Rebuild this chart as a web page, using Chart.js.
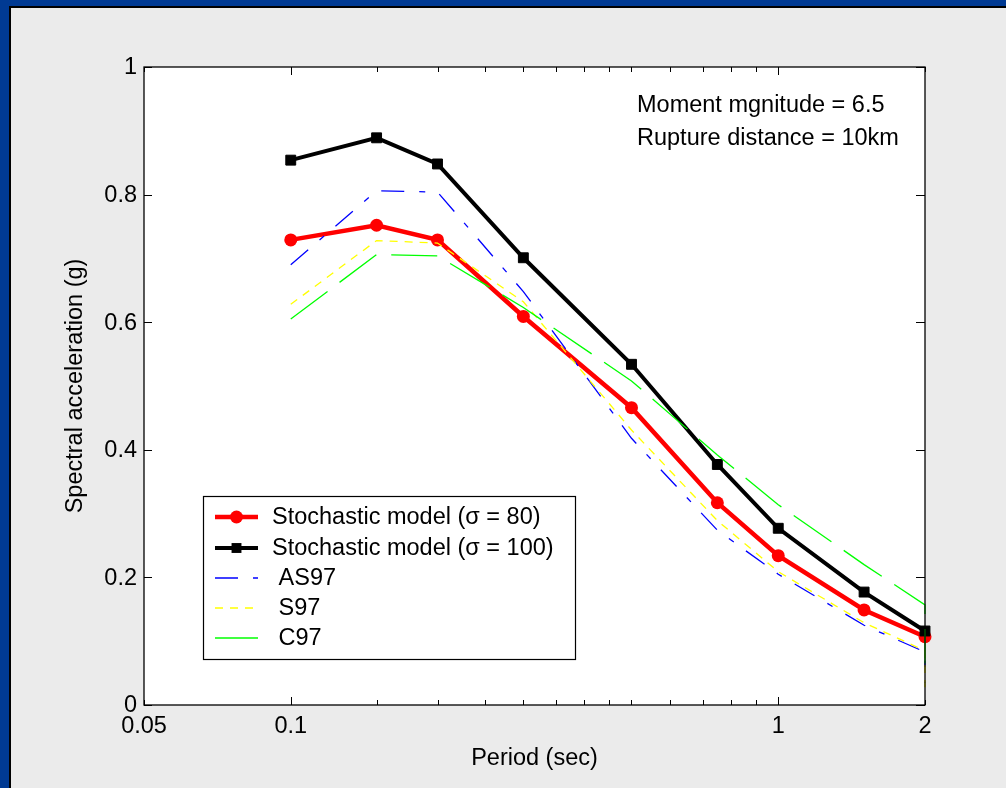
<!DOCTYPE html>
<html><head><meta charset="utf-8">
<script src="https://cdn.jsdelivr.net/npm/chart.js@4.4.0/dist/chart.umd.min.js"></script>
<style>
html,body{margin:0;padding:0;background:#003a93;width:1006px;height:788px;overflow:hidden}
#frame{position:absolute;left:9px;top:6px;width:1020px;height:800px;border:2px solid #000;background:#ebebeb;box-sizing:border-box}
#c{position:absolute;left:0;top:0;width:1006px;height:788px}
</style></head><body>
<div id="frame"></div>
<canvas id="c" width="1006" height="788"></canvas>
<script>
// ---- data ----
const periods      = [0.1, 0.15, 0.2, 0.3, 0.5, 0.75, 1, 1.5, 2];
const stoch80      = [0.729, 0.752, 0.729, 0.609, 0.466, 0.317, 0.234, 0.149, 0.107];
const stoch100     = [0.854, 0.889, 0.848, 0.701, 0.534, 0.377, 0.277, 0.177, 0.116];
const modelPeriods = [0.1, 0.15, 0.2, 0.3, 0.5, 0.75, 1, 1.5, 2, 2];
const as97         = [0.690, 0.806, 0.804, 0.648, 0.418, 0.274, 0.205, 0.125, 0.083, 0.035];
const s97          = [0.628, 0.728, 0.724, 0.632, 0.431, 0.289, 0.209, 0.129, 0.085, 0.028];
const c97          = [0.605, 0.706, 0.704, 0.623, 0.508, 0.392, 0.314, 0.220, 0.157, 0.065];
const seriesNames  = ['Stochastic model (\u03c3 = 80)', 'Stochastic model (\u03c3 = 100)', ' AS97', ' S97', ' C97'];
const xTickValues  = [0.05, 0.1, 0.15, 0.2, 0.25, 0.3, 0.35, 0.4, 0.45, 0.5, 0.6, 0.7, 0.8, 0.9, 1, 2];
const xTickLabels  = {0.05: '0.05', 0.1: '0.1', 1: '1', 2: '2'};
const xMajorTicks  = [0.1, 1];
const yTickValues  = [0, 0.2, 0.4, 0.6, 0.8, 1];
const yTickLabels  = ['0', '0.2', '0.4', '0.6', '0.8', '1'];
const annotation   = ['Moment mgnitude = 6.5', 'Rupture distance = 10km'];
const xTitle = 'Period (sec)';
const yTitle = 'Spectral acceleration (g)';

const pts = (xs, ys) => xs.map((x, i) => ({x: x, y: ys[i]}));
const FONT = '23.5px "Liberation Sans", Arial, Helvetica, sans-serif';

const datasets = [
  {label: seriesNames[0], data: pts(periods, stoch80), borderColor: '#ff0000', backgroundColor: '#ff0000',
   borderWidth: 4.5, pointStyle: 'circle', pointRadius: 6.5, pointBorderWidth: 0, pointBackgroundColor: '#ff0000', order: 5},
  {label: seriesNames[1], data: pts(periods, stoch100), borderColor: '#000000', backgroundColor: '#000000',
   borderWidth: 4, pointStyle: 'rect', pointRadius: 7, pointBorderWidth: 1, pointBackgroundColor: '#000000', pointBorderColor: '#000', order: 4},
  {label: seriesNames[2], data: pts(modelPeriods, as97), borderColor: '#0000ff', borderWidth: 1.3,
   borderDash: [23, 15, 6, 15], pointRadius: 0, order: 3},
  {label: seriesNames[3], data: pts(modelPeriods, s97), borderColor: '#ffff00', borderWidth: 1.3,
   borderDash: [8, 7], pointRadius: 0, order: 2},
  {label: seriesNames[4], data: pts(modelPeriods, c97), borderColor: '#00ff00', borderWidth: 1.3,
   borderDash: [46, 15], pointRadius: 0, order: 1}
];
datasets.forEach(d => { d.tension = 0; d.clip = false; d.fill = false; });

function drawMarker(ctx, style, x, y, r, color) {
  ctx.fillStyle = color;
  ctx.beginPath();
  if (style === 'circle') { ctx.arc(x, y, r, 0, Math.PI * 2); }
  else { const s = Math.SQRT1_2 * r; ctx.rect(x - s, y - s, 2 * s, 2 * s); }
  ctx.fill();
}

const custom = {
  id: 'custom',
  beforeDatasetsDraw(chart) {
    const {ctx, chartArea: a} = chart;
    ctx.save();
    ctx.fillStyle = '#ffffff';
    ctx.fillRect(a.left, a.top, a.right - a.left, a.bottom - a.top);
    ctx.restore();
  },
  afterDatasetsDraw(chart) {
    const {ctx, chartArea: a, scales: {x, y}} = chart;
    ctx.save();
    // axes box
    ctx.strokeStyle = '#000'; ctx.lineWidth = 1.3;
    ctx.strokeRect(a.left, a.top, a.right - a.left, a.bottom - a.top);
    // ticks
    ctx.lineWidth = 1;
    ctx.beginPath();
    xTickValues.forEach(v => {
      const px = Math.round(x.getPixelForValue(v)) + 0.5;
      const len = xMajorTicks.includes(v) ? 8 : 5;
      ctx.moveTo(px, a.bottom); ctx.lineTo(px, a.bottom - len);
      ctx.moveTo(px, a.top); ctx.lineTo(px, a.top + len);
    });
    yTickValues.forEach(v => {
      const py = Math.round(y.getPixelForValue(v)) + 0.5;
      ctx.moveTo(a.left, py); ctx.lineTo(a.left + 8, py);
      ctx.moveTo(a.right, py); ctx.lineTo(a.right - 9, py);
    });
    ctx.stroke();
    // tick labels
    ctx.fillStyle = '#000'; ctx.font = FONT;
    ctx.textAlign = 'right'; ctx.textBaseline = 'middle';
    yTickValues.forEach((v, i) => ctx.fillText(yTickLabels[i], a.left - 7, y.getPixelForValue(v) + 1));
    ctx.textAlign = 'center';
    xTickValues.forEach(v => {
      if (xTickLabels[v] !== undefined) ctx.fillText(xTickLabels[v], x.getPixelForValue(v), a.bottom + 22);
    });
    // axis titles
    ctx.fillText(xTitle, (a.left + a.right) / 2, a.bottom + 54);
    ctx.save();
    ctx.translate(76, (a.top + a.bottom) / 2);
    ctx.rotate(-Math.PI / 2);
    ctx.fillText(yTitle, 0, 0);
    ctx.restore();
    // annotation
    ctx.textAlign = 'left';
    annotation.forEach((t, i) => ctx.fillText(t, 637, 106 + i * 33));
    // legend
    const lx = 203, ly = 496, lw = 372, lh = 163;
    ctx.fillStyle = '#fff'; ctx.fillRect(lx, ly, lw, lh);
    ctx.strokeStyle = '#000'; ctx.lineWidth = 1.2; ctx.strokeRect(lx + 0.5, ly + 0.5, lw, lh);
    const rows = [517, 548, 578, 608, 638];
    chart.data.datasets.forEach((d, i) => {
      const ry = rows[i];
      ctx.save();
      ctx.strokeStyle = d.borderColor; ctx.lineWidth = d.borderWidth;
      ctx.setLineDash(d.borderDash || []);
      ctx.beginPath(); ctx.moveTo(215, ry); ctx.lineTo(258, ry); ctx.stroke();
      ctx.restore();
      if (d.pointRadius > 0) drawMarker(ctx, d.pointStyle, 236.5, ry, d.pointRadius, d.pointBackgroundColor);
      ctx.fillStyle = '#000'; ctx.font = FONT; ctx.textAlign = 'left'; ctx.textBaseline = 'middle';
      ctx.fillText(d.label, 272, ry + 1);
    });
    ctx.restore();
  }
};

new Chart(document.getElementById('c').getContext('2d'), {
  type: 'line',
  data: {datasets: datasets},
  options: {
    responsive: false, animation: false, events: [],
    layout: {autoPadding: false, padding: {left: 144, top: 67, right: 81, bottom: 83}},
    plugins: {legend: {display: false}, tooltip: {enabled: false}},
    scales: {
      x: {type: 'logarithmic', min: 0.05, max: 2,
          afterBuildTicks(s) { s.ticks = xTickValues.map(v => ({value: v})); },
          ticks: {display: false}, grid: {display: false}, border: {display: false},
          afterFit(s) { s.height = 0; }},
      y: {type: 'linear', min: 0, max: 1,
          ticks: {display: false}, grid: {display: false}, border: {display: false},
          afterFit(s) { s.width = 0; }}
    }
  },
  plugins: [custom]
});
</script>
</body></html>
